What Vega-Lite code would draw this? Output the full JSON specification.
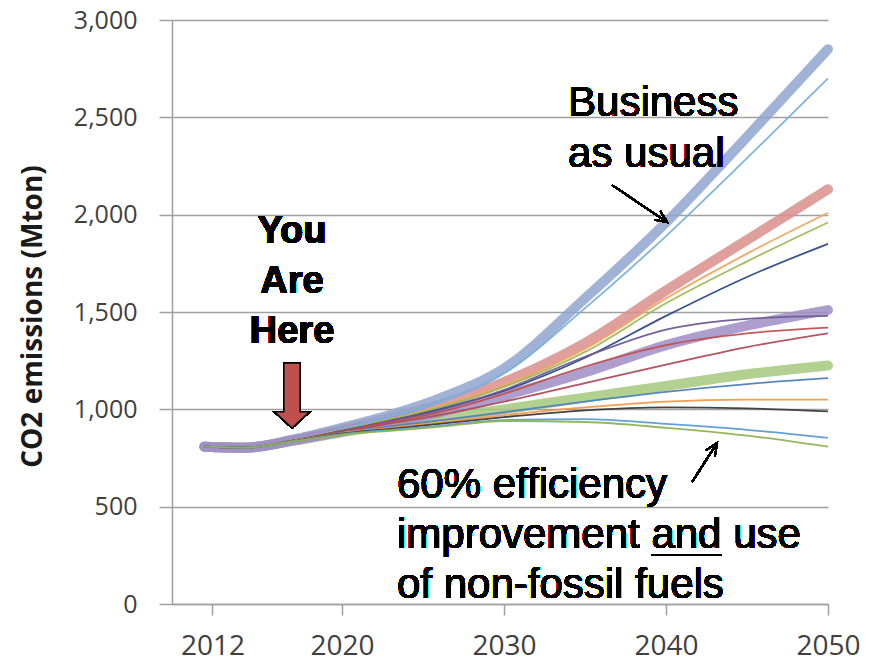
{
  "$schema": "https://vega.github.io/schema/vega-lite/v6.json",
  "width": 656,
  "height": 584,
  "autosize": {"type": "none"},
  "padding": {"left": 172, "top": 20, "right": 50, "bottom": 58},
  "background": "white",
  "config": {"view": {"stroke": null}, "font": "Open Sans"},
  "datasets": {
    "emissions": [
      {"s": "Scenario D", "t": "main", "year": 2011.5, "v": 808}, {"s": "Scenario D", "t": "main", "year": 2014, "v": 803}, {"s": "Scenario D", "t": "main", "year": 2017, "v": 839}, {"s": "Scenario D", "t": "main", "year": 2020, "v": 882}, {"s": "Scenario D", "t": "main", "year": 2023, "v": 920}, {"s": "Scenario D", "t": "main", "year": 2026, "v": 955}, {"s": "Scenario D", "t": "main", "year": 2030, "v": 1000}, {"s": "Scenario D", "t": "main", "year": 2035, "v": 1060}, {"s": "Scenario D", "t": "main", "year": 2040, "v": 1120}, {"s": "Scenario D", "t": "main", "year": 2045, "v": 1180}, {"s": "Scenario D", "t": "main", "year": 2050, "v": 1225},
      {"s": "Scenario B", "t": "main", "year": 2011.5, "v": 808}, {"s": "Scenario B", "t": "main", "year": 2014, "v": 803}, {"s": "Scenario B", "t": "main", "year": 2017, "v": 843}, {"s": "Scenario B", "t": "main", "year": 2020, "v": 897}, {"s": "Scenario B", "t": "main", "year": 2023, "v": 958}, {"s": "Scenario B", "t": "main", "year": 2026, "v": 1025}, {"s": "Scenario B", "t": "main", "year": 2030, "v": 1140}, {"s": "Scenario B", "t": "main", "year": 2035, "v": 1340}, {"s": "Scenario B", "t": "main", "year": 2040, "v": 1610}, {"s": "Scenario B", "t": "main", "year": 2045, "v": 1870}, {"s": "Scenario B", "t": "main", "year": 2050, "v": 2130},
      {"s": "Business as usual", "t": "main", "year": 2011.5, "v": 808}, {"s": "Business as usual", "t": "main", "year": 2014, "v": 803}, {"s": "Business as usual", "t": "main", "year": 2017, "v": 845}, {"s": "Business as usual", "t": "main", "year": 2020, "v": 905}, {"s": "Business as usual", "t": "main", "year": 2023, "v": 972}, {"s": "Business as usual", "t": "main", "year": 2026, "v": 1055}, {"s": "Business as usual", "t": "main", "year": 2030, "v": 1210}, {"s": "Business as usual", "t": "main", "year": 2035, "v": 1570}, {"s": "Business as usual", "t": "main", "year": 2040, "v": 1960}, {"s": "Business as usual", "t": "main", "year": 2045, "v": 2400}, {"s": "Business as usual", "t": "main", "year": 2050, "v": 2850},
      {"s": "Scenario C", "t": "main", "year": 2011.5, "v": 808}, {"s": "Scenario C", "t": "main", "year": 2014, "v": 803}, {"s": "Scenario C", "t": "main", "year": 2017, "v": 840}, {"s": "Scenario C", "t": "main", "year": 2020, "v": 887}, {"s": "Scenario C", "t": "main", "year": 2023, "v": 935}, {"s": "Scenario C", "t": "main", "year": 2026, "v": 985}, {"s": "Scenario C", "t": "main", "year": 2030, "v": 1070}, {"s": "Scenario C", "t": "main", "year": 2035, "v": 1190}, {"s": "Scenario C", "t": "main", "year": 2040, "v": 1330}, {"s": "Scenario C", "t": "main", "year": 2045, "v": 1430}, {"s": "Scenario C", "t": "main", "year": 2050, "v": 1510},
      {"s": "BAU variant", "t": "variant", "year": 2011.5, "v": 808}, {"s": "BAU variant", "t": "variant", "year": 2014, "v": 803}, {"s": "BAU variant", "t": "variant", "year": 2017, "v": 843}, {"s": "BAU variant", "t": "variant", "year": 2020, "v": 900}, {"s": "BAU variant", "t": "variant", "year": 2023, "v": 962}, {"s": "BAU variant", "t": "variant", "year": 2026, "v": 1040}, {"s": "BAU variant", "t": "variant", "year": 2030, "v": 1185}, {"s": "BAU variant", "t": "variant", "year": 2035, "v": 1520}, {"s": "BAU variant", "t": "variant", "year": 2040, "v": 1890}, {"s": "BAU variant", "t": "variant", "year": 2045, "v": 2290}, {"s": "BAU variant", "t": "variant", "year": 2050, "v": 2700},
      {"s": "B variant 1", "t": "variant", "year": 2011.5, "v": 808}, {"s": "B variant 1", "t": "variant", "year": 2014, "v": 803}, {"s": "B variant 1", "t": "variant", "year": 2017, "v": 842}, {"s": "B variant 1", "t": "variant", "year": 2020, "v": 893}, {"s": "B variant 1", "t": "variant", "year": 2023, "v": 950}, {"s": "B variant 1", "t": "variant", "year": 2026, "v": 1015}, {"s": "B variant 1", "t": "variant", "year": 2030, "v": 1125}, {"s": "B variant 1", "t": "variant", "year": 2035, "v": 1310}, {"s": "B variant 1", "t": "variant", "year": 2040, "v": 1570}, {"s": "B variant 1", "t": "variant", "year": 2045, "v": 1800}, {"s": "B variant 1", "t": "variant", "year": 2050, "v": 2010},
      {"s": "B variant 2", "t": "variant", "year": 2011.5, "v": 808}, {"s": "B variant 2", "t": "variant", "year": 2014, "v": 803}, {"s": "B variant 2", "t": "variant", "year": 2017, "v": 842}, {"s": "B variant 2", "t": "variant", "year": 2020, "v": 892}, {"s": "B variant 2", "t": "variant", "year": 2023, "v": 948}, {"s": "B variant 2", "t": "variant", "year": 2026, "v": 1010}, {"s": "B variant 2", "t": "variant", "year": 2030, "v": 1115}, {"s": "B variant 2", "t": "variant", "year": 2035, "v": 1295}, {"s": "B variant 2", "t": "variant", "year": 2040, "v": 1545}, {"s": "B variant 2", "t": "variant", "year": 2045, "v": 1760}, {"s": "B variant 2", "t": "variant", "year": 2050, "v": 1960},
      {"s": "B variant 3", "t": "variant", "year": 2011.5, "v": 808}, {"s": "B variant 3", "t": "variant", "year": 2014, "v": 803}, {"s": "B variant 3", "t": "variant", "year": 2017, "v": 841}, {"s": "B variant 3", "t": "variant", "year": 2020, "v": 890}, {"s": "B variant 3", "t": "variant", "year": 2023, "v": 942}, {"s": "B variant 3", "t": "variant", "year": 2026, "v": 1000}, {"s": "B variant 3", "t": "variant", "year": 2030, "v": 1095}, {"s": "B variant 3", "t": "variant", "year": 2035, "v": 1265}, {"s": "B variant 3", "t": "variant", "year": 2040, "v": 1480}, {"s": "B variant 3", "t": "variant", "year": 2045, "v": 1680}, {"s": "B variant 3", "t": "variant", "year": 2050, "v": 1850},
      {"s": "C variant 1", "t": "variant", "year": 2011.5, "v": 808}, {"s": "C variant 1", "t": "variant", "year": 2014, "v": 803}, {"s": "C variant 1", "t": "variant", "year": 2017, "v": 840}, {"s": "C variant 1", "t": "variant", "year": 2020, "v": 888}, {"s": "C variant 1", "t": "variant", "year": 2023, "v": 940}, {"s": "C variant 1", "t": "variant", "year": 2026, "v": 995}, {"s": "C variant 1", "t": "variant", "year": 2030, "v": 1100}, {"s": "C variant 1", "t": "variant", "year": 2035, "v": 1270}, {"s": "C variant 1", "t": "variant", "year": 2040, "v": 1410}, {"s": "C variant 1", "t": "variant", "year": 2045, "v": 1465}, {"s": "C variant 1", "t": "variant", "year": 2050, "v": 1480},
      {"s": "C variant 2", "t": "variant", "year": 2011.5, "v": 808}, {"s": "C variant 2", "t": "variant", "year": 2014, "v": 803}, {"s": "C variant 2", "t": "variant", "year": 2017, "v": 840}, {"s": "C variant 2", "t": "variant", "year": 2020, "v": 887}, {"s": "C variant 2", "t": "variant", "year": 2023, "v": 935}, {"s": "C variant 2", "t": "variant", "year": 2026, "v": 985}, {"s": "C variant 2", "t": "variant", "year": 2030, "v": 1080}, {"s": "C variant 2", "t": "variant", "year": 2035, "v": 1220}, {"s": "C variant 2", "t": "variant", "year": 2040, "v": 1330}, {"s": "C variant 2", "t": "variant", "year": 2045, "v": 1390}, {"s": "C variant 2", "t": "variant", "year": 2050, "v": 1420},
      {"s": "C variant 3", "t": "variant", "year": 2011.5, "v": 808}, {"s": "C variant 3", "t": "variant", "year": 2014, "v": 803}, {"s": "C variant 3", "t": "variant", "year": 2017, "v": 839}, {"s": "C variant 3", "t": "variant", "year": 2020, "v": 885}, {"s": "C variant 3", "t": "variant", "year": 2023, "v": 928}, {"s": "C variant 3", "t": "variant", "year": 2026, "v": 970}, {"s": "C variant 3", "t": "variant", "year": 2030, "v": 1040}, {"s": "C variant 3", "t": "variant", "year": 2035, "v": 1135}, {"s": "C variant 3", "t": "variant", "year": 2040, "v": 1230}, {"s": "C variant 3", "t": "variant", "year": 2045, "v": 1320}, {"s": "C variant 3", "t": "variant", "year": 2050, "v": 1390},
      {"s": "D variant 1", "t": "variant", "year": 2011.5, "v": 808}, {"s": "D variant 1", "t": "variant", "year": 2014, "v": 803}, {"s": "D variant 1", "t": "variant", "year": 2017, "v": 838}, {"s": "D variant 1", "t": "variant", "year": 2020, "v": 880}, {"s": "D variant 1", "t": "variant", "year": 2023, "v": 912}, {"s": "D variant 1", "t": "variant", "year": 2026, "v": 943}, {"s": "D variant 1", "t": "variant", "year": 2030, "v": 985}, {"s": "D variant 1", "t": "variant", "year": 2035, "v": 1040}, {"s": "D variant 1", "t": "variant", "year": 2040, "v": 1090}, {"s": "D variant 1", "t": "variant", "year": 2045, "v": 1130}, {"s": "D variant 1", "t": "variant", "year": 2050, "v": 1160},
      {"s": "D variant 2", "t": "variant", "year": 2011.5, "v": 808}, {"s": "D variant 2", "t": "variant", "year": 2014, "v": 803}, {"s": "D variant 2", "t": "variant", "year": 2017, "v": 838}, {"s": "D variant 2", "t": "variant", "year": 2020, "v": 878}, {"s": "D variant 2", "t": "variant", "year": 2023, "v": 905}, {"s": "D variant 2", "t": "variant", "year": 2026, "v": 932}, {"s": "D variant 2", "t": "variant", "year": 2030, "v": 970}, {"s": "D variant 2", "t": "variant", "year": 2035, "v": 1010}, {"s": "D variant 2", "t": "variant", "year": 2040, "v": 1040}, {"s": "D variant 2", "t": "variant", "year": 2045, "v": 1050}, {"s": "D variant 2", "t": "variant", "year": 2050, "v": 1050},
      {"s": "D variant 3", "t": "variant", "year": 2011.5, "v": 808}, {"s": "D variant 3", "t": "variant", "year": 2014, "v": 803}, {"s": "D variant 3", "t": "variant", "year": 2017, "v": 837}, {"s": "D variant 3", "t": "variant", "year": 2020, "v": 876}, {"s": "D variant 3", "t": "variant", "year": 2023, "v": 900}, {"s": "D variant 3", "t": "variant", "year": 2026, "v": 925}, {"s": "D variant 3", "t": "variant", "year": 2030, "v": 960}, {"s": "D variant 3", "t": "variant", "year": 2035, "v": 995}, {"s": "D variant 3", "t": "variant", "year": 2040, "v": 1010}, {"s": "D variant 3", "t": "variant", "year": 2045, "v": 1005}, {"s": "D variant 3", "t": "variant", "year": 2050, "v": 990},
      {"s": "E variant 1", "t": "variant", "year": 2011.5, "v": 808}, {"s": "E variant 1", "t": "variant", "year": 2014, "v": 803}, {"s": "E variant 1", "t": "variant", "year": 2017, "v": 836}, {"s": "E variant 1", "t": "variant", "year": 2020, "v": 873}, {"s": "E variant 1", "t": "variant", "year": 2023, "v": 895}, {"s": "E variant 1", "t": "variant", "year": 2026, "v": 915}, {"s": "E variant 1", "t": "variant", "year": 2030, "v": 945}, {"s": "E variant 1", "t": "variant", "year": 2035, "v": 950}, {"s": "E variant 1", "t": "variant", "year": 2040, "v": 925}, {"s": "E variant 1", "t": "variant", "year": 2045, "v": 895}, {"s": "E variant 1", "t": "variant", "year": 2050, "v": 853},
      {"s": "60% efficiency + non-fossil", "t": "variant", "year": 2011.5, "v": 808}, {"s": "60% efficiency + non-fossil", "t": "variant", "year": 2014, "v": 803}, {"s": "60% efficiency + non-fossil", "t": "variant", "year": 2017, "v": 835}, {"s": "60% efficiency + non-fossil", "t": "variant", "year": 2020, "v": 870}, {"s": "60% efficiency + non-fossil", "t": "variant", "year": 2023, "v": 890}, {"s": "60% efficiency + non-fossil", "t": "variant", "year": 2026, "v": 910}, {"s": "60% efficiency + non-fossil", "t": "variant", "year": 2030, "v": 940}, {"s": "60% efficiency + non-fossil", "t": "variant", "year": 2035, "v": 935}, {"s": "60% efficiency + non-fossil", "t": "variant", "year": 2040, "v": 905}, {"s": "60% efficiency + non-fossil", "t": "variant", "year": 2045, "v": 865}, {"s": "60% efficiency + non-fossil", "t": "variant", "year": 2050, "v": 808}
    ]
  },
  "data": {"name": "emissions"},
  "layer": [
    {
      "transform": [{"filter": "datum.t == 'main'"}],
      "mark": {"type": "line", "interpolate": "monotone", "strokeWidth": 10, "opacity": 0.85, "strokeCap": "round"},
      "encoding": {
        "x": {
          "field": "year", "type": "quantitative",
          "scale": {"domain": [2009.5, 2050], "nice": false, "zero": false},
          "axis": {
            "values": [2012, 2020, 2030, 2040, 2050], "format": "d", "title": null, "grid": false,
            "labelFont": "Open Sans", "labelFontSize": 28, "labelColor": "#404040", "labelPadding": 17,
            "labelFlush": false, "labelOverlap": false, "labelBound": false,
            "tickSize": 11, "tickColor": "#a0a0a0", "tickWidth": 1.5,
            "domainColor": "#a0a0a0", "domainWidth": 1.5
          }
        },
        "y": {
          "field": "v", "type": "quantitative",
          "scale": {"domain": [0, 3000], "nice": false},
          "axis": {
            "values": [0, 500, 1000, 1500, 2000, 2500, 3000], "format": ",d",
            "title": "CO2 emissions (Mton)", "titleFont": "Open Sans", "titleFontWeight": "bold", "titleFontSize": 28, "titleColor": "#1a1a1a",
            "titleX": -139, "titleY": 296, "titleAngle": -90, "titleAlign": "center", "titleBaseline": "middle",
            "labelFont": "Open Sans", "labelFontSize": 25, "labelColor": "#404040", "labelPadding": 22,
            "labelFlush": false, "labelOverlap": false,
            "tickSize": 13, "tickColor": "#a0a0a0", "tickWidth": 1.5,
            "domainColor": "#a0a0a0", "domainWidth": 1.5,
            "grid": true, "gridColor": "#a0a0a0", "gridWidth": 1.5
          }
        },
        "color": {
          "field": "s", "type": "nominal", "legend": null,
          "scale": {
            "domain": ["Business as usual", "BAU variant", "Scenario B", "B variant 1", "B variant 2", "B variant 3", "Scenario C", "C variant 1", "C variant 2", "C variant 3", "Scenario D", "D variant 1", "D variant 2", "D variant 3", "E variant 1", "60% efficiency + non-fossil"],
            "range": ["#8FA6CF", "#79B0DB", "#D98F8C", "#F4A460", "#9BBB59", "#2E4A8A", "#A08DC4", "#6F5A96", "#C0504D", "#B04A5A", "#A5C97C", "#4F81BD", "#F79646", "#3A3A3A", "#5B9BD5", "#8DB255"]
          }
        }
      }
    },
    {
      "transform": [{"filter": "datum.t == 'variant'"}],
      "mark": {"type": "line", "interpolate": "monotone", "strokeWidth": 1.8, "opacity": 0.95},
      "encoding": {
        "x": {"field": "year", "type": "quantitative"},
        "y": {"field": "v", "type": "quantitative"},
        "color": {"field": "s", "type": "nominal", "legend": null}
      }
    },
    {
      "mark": {"type": "text", "text": ["Business", "as usual"], "font": "Liberation Sans", "fontSize": 42, "lineHeight": 51, "align": "left", "baseline": "alphabetic", "color": "#000000"},
      "encoding": {"x": {"datum": 2033.95, "type": "quantitative"}, "y": {"datum": 2507, "type": "quantitative"}}
    },
    {
      "mark": {"type": "text", "text": ["You", "Are", "Here"], "font": "Liberation Sans", "fontWeight": "bold", "fontSize": 38, "lineHeight": 50, "align": "center", "baseline": "alphabetic", "color": "#000000"},
      "encoding": {"x": {"datum": 2016.91, "type": "quantitative"}, "y": {"datum": 1854, "type": "quantitative"}}
    },
    {
      "mark": {"type": "text", "text": ["60% efficiency", "improvement and use", "of non-fossil fuels"], "font": "Liberation Sans", "fontSize": 42, "lineHeight": 50, "align": "left", "baseline": "alphabetic", "color": "#000000"},
      "encoding": {"x": {"datum": 2023.39, "type": "quantitative"}, "y": {"datum": 544.5, "type": "quantitative"}}
    },
    {
      "mark": {"type": "rule", "color": "#000000", "strokeWidth": 2.2},
      "encoding": {"x": {"datum": 2039.1, "type": "quantitative"}, "x2": {"datum": 2043.42}, "y": {"datum": 251.7, "type": "quantitative"}}
    },
    {
      "mark": {"type": "rule", "color": "#000000", "strokeWidth": 1.6},
      "encoding": {"x": {"datum": 2036.67, "type": "quantitative"}, "x2": {"datum": 2040.07}, "y": {"datum": 2152, "type": "quantitative"}, "y2": {"datum": 1962}}
    },
    {
      "mark": {"type": "rule", "color": "#000000", "strokeWidth": 1.6},
      "encoding": {"x": {"datum": 2041.61, "type": "quantitative"}, "x2": {"datum": 2043.15}, "y": {"datum": 627, "type": "quantitative"}, "y2": {"datum": 827}}
    },
    {
      "mark": {"type": "point", "shape": "M-0.45,1L0,0L0.45,1", "filled": false, "stroke": "#000000", "strokeWidth": 1.6, "size": 576, "opacity": 1, "angle": 124},
      "encoding": {"x": {"datum": 2040.07, "type": "quantitative"}, "y": {"datum": 1962, "type": "quantitative"}}
    },
    {
      "mark": {"type": "point", "shape": "M-0.45,1L0,0L0.45,1", "filled": false, "stroke": "#000000", "strokeWidth": 1.6, "size": 576, "opacity": 1, "angle": 33},
      "encoding": {"x": {"datum": 2043.15, "type": "quantitative"}, "y": {"datum": 827, "type": "quantitative"}}
    },
    {
      "mark": {"type": "point", "shape": "M-0.25,-1L0.25,-1L0.25,0.5L0.54,0.5L0,1L-0.54,0.5L-0.25,0.5Z", "filled": true, "fill": "#C0504D", "stroke": "#000000", "strokeWidth": 1.5, "size": 4225, "opacity": 1},
      "encoding": {"x": {"datum": 2016.91, "type": "quantitative"}, "y": {"datum": 1071, "type": "quantitative"}}
    }
  ]
}
